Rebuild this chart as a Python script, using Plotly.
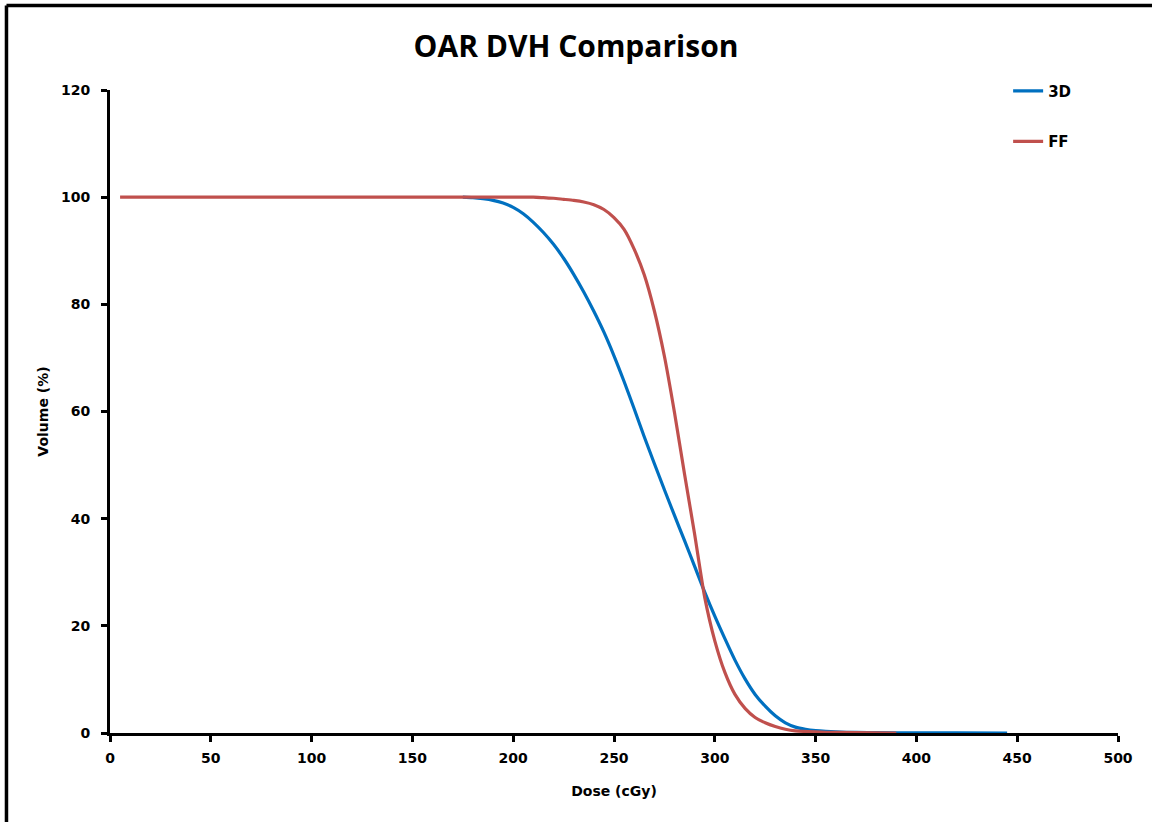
import plotly.graph_objects as go

# Cumulative dose-volume histograms (dose in cGy, volume in %)
dose_3d = [175, 180, 185, 190, 195, 200, 205, 210, 215, 220, 225, 230, 235, 240,
           245, 250, 255, 260, 265, 270, 275, 280, 285, 290, 295, 300, 305, 310,
           315, 320, 325, 330, 335, 340, 345, 350, 355, 360, 370, 380, 400, 420, 445]
vol_3d = [100, 99.9, 99.7, 99.4, 98.9, 98.1, 96.9, 95.3, 93.4, 91.2, 88.6, 85.6, 82.3,
          78.7, 74.8, 70.4, 65.6, 60.5, 55.3, 50.3, 45.4, 40.6, 35.9, 31.1, 26.3,
          21.8, 17.6, 13.6, 10.1, 7.2, 5.0, 3.2, 1.9, 1.1, 0.7, 0.45, 0.3, 0.2, 0.1,
          0.06, 0.03, 0.01, 0]

dose_ff = [5, 50, 100, 150, 200, 210, 215, 220, 225, 230, 235, 240, 245, 250, 255,
           260, 265, 270, 275, 280, 285, 290, 295, 300, 305, 310, 315, 320, 325, 330,
           335, 340, 350, 360, 390]
vol_ff = [100, 100, 100, 100, 100, 100, 99.9, 99.8, 99.6, 99.4, 99.1, 98.6, 97.7,
          96.2, 94.0, 90.3, 85.5, 78.8, 70.3, 59.8, 48.3, 37.1, 25.3, 17.2, 11.3,
          7.2, 4.6, 2.9, 1.9, 1.2, 0.7, 0.4, 0.2, 0.1, 0]

x_ticks = [0, 50, 100, 150, 200, 250, 300, 350, 400, 450, 500]
y_ticks = [0, 20, 40, 60, 80, 100, 120]

FONT = "DejaVu Sans"

fig = go.Figure()
fig.add_trace(go.Scatter(x=dose_3d, y=vol_3d, mode="lines", name="3D",
                         legendgroup="3D",
                         line=dict(color="#0070C0", width=3.2, shape="spline",
                                   smoothing=0.8)))
fig.add_trace(go.Scatter(x=dose_ff, y=vol_ff, mode="lines", name="FF",
                         legendgroup="FF",
                         line=dict(color="#C0504D", width=3.2, shape="spline",
                                   smoothing=0.6)))

axis_common = dict(showgrid=False, zeroline=False, showline=True,
                   linecolor="black", linewidth=3, ticks="outside",
                   ticklen=6, tickwidth=3, tickcolor="black",
                   tickfont=dict(family=FONT, size=14, color="black",
                                 weight="bold"))

fig.update_xaxes(range=[0, 500], tickvals=x_ticks, ticklabelstandoff=4,
                 title=dict(text="Dose (cGy)", standoff=22,
                            font=dict(family=FONT, size=14, color="black",
                                      weight="bold")),
                 **axis_common)
fig.update_yaxes(range=[0, 120], tickvals=y_ticks, ticklabelstandoff=8,
                 title=dict(text="Volume (%)", standoff=10,
                            font=dict(family=FONT, size=14, color="black",
                                      weight="bold")),
                 **axis_common)

# Outer frame (top and left edges of the chart area)
frame = dict(type="line", xref="paper", yref="paper",
             line=dict(color="black", width=3.5))
fig.add_shape(x0=-0.1027, x1=1.04, y0=1.1314, y1=1.1314, **frame)
fig.add_shape(x0=-0.1027, x1=-0.1027, y0=-0.14, y1=1.1314, **frame)

fig.update_layout(
    width=1152, height=822,
    margin=dict(l=110, r=34, t=90, b=89),
    paper_bgcolor="white", plot_bgcolor="white",
    title=dict(text="OAR DVH Comparison", x=0.5, xanchor="center",
               y=0.944, yanchor="middle",
               font=dict(family="Open Sans", size=30, color="black",
                         weight="bold")),
    legend=dict(x=0.891, y=1.024, xanchor="left", yanchor="top",
                bgcolor="rgba(0,0,0,0)", tracegroupgap=28,
                font=dict(family=FONT, size=15, color="black", weight="bold")),
)

fig.write_html("out.html")
